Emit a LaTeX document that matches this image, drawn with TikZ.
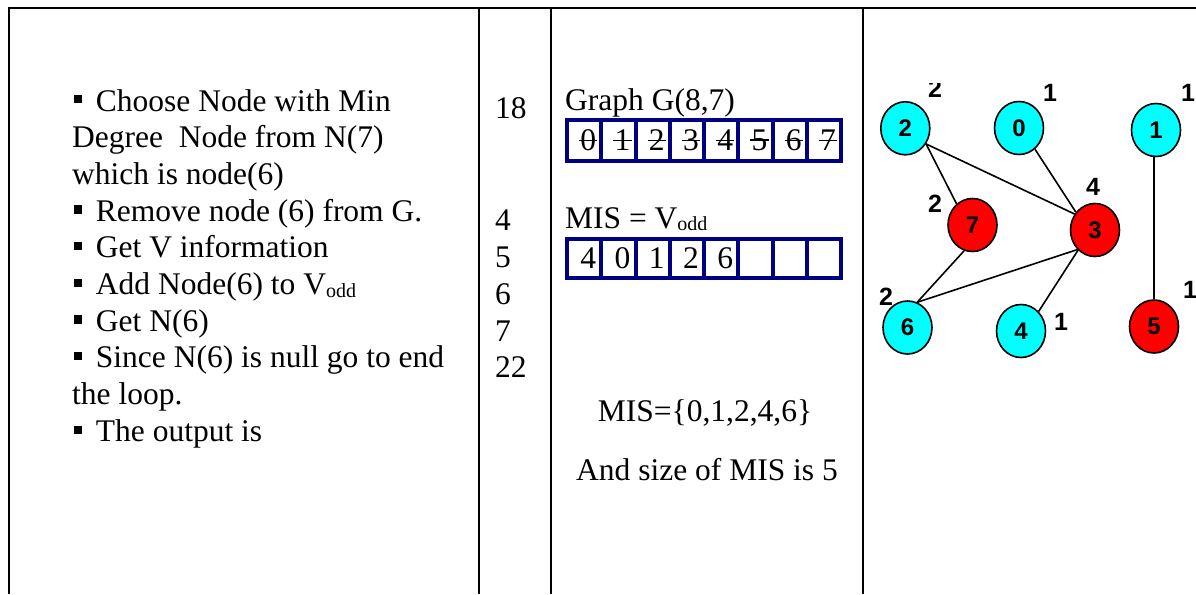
\documentclass[tikz,border=0pt]{standalone}
\usepackage{fontspec}
\setmainfont{Liberation Serif}
\newfontfamily\gsans{Liberation Sans}
\usetikzlibrary{shapes.geometric}
\definecolor{navy}{RGB}{0,0,128}
\definecolor{gcyan}{RGB}{0,255,255}
\definecolor{gred}{RGB}{255,0,0}
\newcommand\bsq{\rule[0.24em]{0.26em}{0.26em}\hspace{0.43em}}
\newcommand\vodd{V\raisebox{-0.08em}{\fontsize{20}{20}\selectfont odd}}
\newcommand\strk[1]{\makebox[0pt][l]{\hspace{-0.04em}\rule[0.31em]{0.58em}{1.4pt}}#1}
\newcommand\cdig[1]{\makebox[0pt][c]{\hspace{8.4pt}#1}}
\tikzset{
  txt/.style={anchor=base west, inner sep=0pt, font=\fontsize{31.5}{36}\selectfont},
  ctxt/.style={anchor=base, inner sep=0pt, font=\fontsize{31.5}{36}\selectfont},
  cellA/.style={draw=navy, line width=4pt, minimum width=34.25pt, minimum height=41pt, inner sep=0pt, font=\fontsize{31.5}{36}\selectfont},
  cellB/.style={draw=navy, line width=4pt, minimum width=34.25pt, minimum height=39pt, inner sep=0pt, font=\fontsize{31.5}{36}\selectfont},
  gnode/.style={ellipse, draw=black, line width=1.6pt, minimum width=49pt, minimum height=53pt, inner sep=0pt, font=\gsans\bfseries\fontsize{24}{24}\selectfont},
  cyn/.style={gnode, fill=gcyan},
  rd/.style={gnode, fill=gred},
  deg/.style={inner sep=0pt, font=\gsans\bfseries\fontsize{25}{25}\selectfont},
  gedge/.style={line width=1.6pt},
  tabrule/.style={line width=2pt}
}
\begin{document}
\begin{tikzpicture}[x=1pt,y=-1pt]
\useasboundingbox[fill=white] (0,0) rectangle (1196,594);
% table rules
\draw[tabrule] (7.7,7.7) -- (1196,7.7);
\draw[tabrule] (8.7,6.7) -- (8.7,594);
\draw[tabrule] (479,7.7) -- (479,594);
\draw[tabrule] (551,7.7) -- (551,594);
\draw[tabrule] (863,7.7) -- (863,594);
% left column text
\node[txt] (l1) at (74,111) {\bsq Choose Node with Min};
\node[txt] (l2) at (72,147.7) {Degree\hspace{0.5em}Node from N(7)};
\node[txt] (l3) at (72,184.4) {which is node(6)};
\node[txt] (l4) at (74,221.1) {\bsq Remove node (6) from G.};
\node[txt] (l5) at (74,257.8) {\bsq Get V information};
\node[txt] (l6) at (74,294.5) {\bsq Add Node(6) to \vodd};
\node[txt] (l7) at (74,331.2) {\bsq Get N(6)};
\node[txt] (l8) at (74,367.9) {\bsq Since N(6) is null go to end};
\node[txt] (l9) at (72,404.6) {the loop.};
\node[txt] (l10) at (74,441.3) {\bsq The output is};
% line numbers
\node[txt] (k1) at (495,118) {18};
\node[txt] (k2) at (495,230) {4};
\node[txt] (k3) at (495,267.5) {5};
\node[txt] (k4) at (495,304.5) {6};
\node[txt] (k5) at (495,341.5) {7};
\node[txt] (k6) at (495,377) {22};
% middle column
\node[txt] (gt) at (565,110) {Graph G(8,7)};
\foreach \d [count=\i from 0] in {0,1,2,3,4,5,6,7} {
  \node[cellA] (a\i) at ({584.125+34.25*\i},140.5) {\cdig{\strk{\d}}};
}
\node[txt] (mt) at (565,228) {MIS = \vodd};
\foreach \d [count=\i from 0] in {4,0,1,2,6,{},{},{}} {
  \node[cellB] (b\i) at ({584.125+34.25*\i},258.5) {\cdig{\d}};
}
\node[ctxt] (mis) at (705,421.5) {MIS=\{0,1,2,4,6\}};
\node[ctxt] (sz) at (707,480) {And size of MIS is 5};
% graph
\node[cyn] (n2) at (905.3,128.3) {2};
\node[cyn] (n0) at (1019,128) {0};
\node[cyn] (n1) at (1156,130) {1};
\node[rd] (n7) at (972.5,225) {7};
\node[rd] (n3) at (1095,230) {3};
\node[cyn] (n6) at (907.5,327.5) {6};
\node[cyn] (n4) at (1021,331) {4};
\node[rd] (n5) at (1154,326.5) {5};
\draw[gedge] (n2.-37) -- (n7.127);
\draw[gedge] (n2.-37) -- (n3.142);
\draw[gedge] (n0.-53) -- (n3.137);
\draw[gedge] (n7.-108) -- (n6.69);
\draw[gedge] (n3.-132) -- (n6.69);
\draw[gedge] (n3.-130) -- (n4.48);
\draw[gedge] (n5.north) -- (n5.north |- n1.south);
% degree labels
\begin{scope}
  \clip (920,83) rectangle (950,110);
  \node[deg] (d2) at (935,89) {2};
\end{scope}
\node[deg] (d0) at (1050,93) {1};
\node[deg] (d1) at (1188,93) {1};
\node[deg] (d3) at (1093,187) {4};
\node[deg] (d7) at (935,204) {2};
\node[deg] (d6) at (886,297) {2};
\node[deg] (d4) at (1061,322) {1};
\node[deg] (d5) at (1190,290) {1};
\end{tikzpicture}
\end{document}
